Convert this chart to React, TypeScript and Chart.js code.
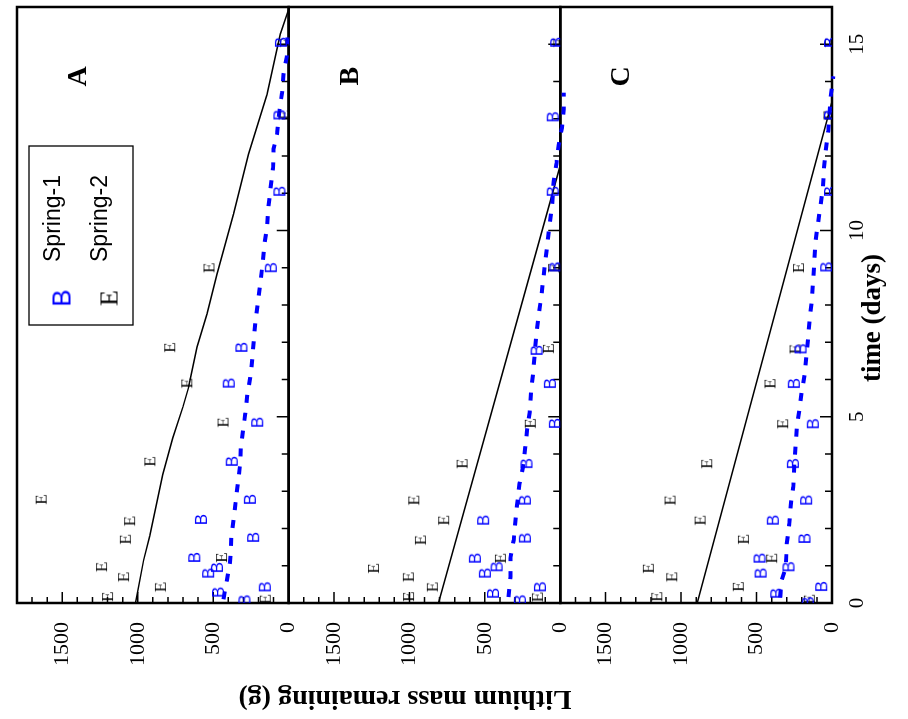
import React, { useEffect, useRef } from "react";
import { Chart, registerables } from "chart.js";

Chart.register(...registerables);

const SERIF = '"Liberation Serif", "Times New Roman", serif';
const SANS = '"Liberation Sans", Arial, sans-serif';

const panelLetters = ["A", "B", "C"];
const seriesLabels = ["Spring-1", "Spring-2"];
const massTicks = [0, 500, 1000, 1500];
const timeTicks = [0, 5, 10, 15];
const xTitle = "time (days)";
const yTitle = "Lithium mass remaining (g)";

// ---------- Panel A ----------
const timeA1 = [0.08, 0.29, 0.43, 0.8, 0.95, 1.22, 1.76, 2.24, 2.78, 3.8, 4.85, 5.9, 6.86, 9.0, 11.05, 13.1, 15.05];
const massA1 = [290, 465, 155, 530, 472, 622, 232, 578, 254, 374, 205, 394, 310, 115, 58, 58, 48];
const timeA2 = [0.1, 0.17, 0.43, 0.7, 0.97, 1.22, 1.71, 2.2, 2.78, 3.8, 4.85, 5.9, 6.86, 9.0, 13.1, 15.05];
const massA2 = [155, 1200, 850, 1094, 1240, 445, 1082, 1054, 1640, 920, 435, 675, 788, 528, 30, 20];
const timeA3 = [0.1, 0.62, 1.1, 1.75, 2.62, 3.71, 4.15, 5.09, 5.6, 6.06, 6.6, 7.58, 8.65, 9.64, 10.08, 10.66, 11.06, 11.68, 12.19, 12.59, 13.26, 13.69, 14.2, 14.68, 15.45];
const massA3 = [432, 409, 388, 380, 354, 322, 318, 287, 274, 254, 240, 220, 185, 160, 144, 133, 122, 104, 100, 77, 60, 44, 34, 12, 5];
const timeA4 = [0, 1.15, 1.8, 3.45, 4.43, 5.26, 5.79, 6.87, 7.76, 8.83, 10.44, 12.05, 13.65, 15.27, 15.94];
const massA4 = [1015, 961, 920, 834, 768, 701, 663, 607, 541, 475, 365, 266, 144, 56, 0];

// ---------- Panel B ----------
const timeB1 = [0.08, 0.26, 0.43, 0.8, 0.97, 1.2, 1.74, 2.22, 2.76, 3.74, 4.82, 5.89, 6.78, 9.02, 11.05, 13.05, 15.05];
const massB1 = [265, 443, 132, 497, 419, 563, 232, 508, 232, 221, 33, 66, 154, 30, 47, 47, 24];
const timeB2 = [0.16, 0.17, 0.43, 0.7, 0.93, 1.2, 1.69, 2.22, 2.76, 3.74, 4.82, 6.83, 9.0, 15.05];
const massB2 = [152, 1006, 848, 1007, 1238, 397, 927, 773, 971, 651, 199, 79, 45, 10];
const timeB3 = [0.16, 0.7, 1.2, 1.69, 2.63, 3.21, 3.65, 4.19, 4.63, 5.12, 5.66, 6.15, 7.22, 7.72, 8.25, 9.0, 9.79, 10.72, 11.33, 11.8, 12.3, 12.76, 13.25, 13.7];
const massB3 = [344, 331, 331, 309, 287, 270, 247, 232, 221, 203, 194, 181, 159, 144, 125, 105, 82, 54, 44, 26, 11, -11, -22, -22];
const timeB4 = [0, 11.75];
const massB4 = [808, 0];

// ---------- Panel C ----------
const timeC1 = [0.03, 0.26, 0.44, 0.8, 0.97, 1.2, 1.73, 2.22, 2.76, 3.74, 4.81, 5.89, 6.82, 9.02, 11.05, 13.1, 15.05];
const massC1 = [157, 366, 68, 470, 285, 477, 179, 389, 168, 256, 124, 250, 205, 35, 10, 10, 10];
const timeC2 = [0.1, 0.17, 0.44, 0.7, 0.93, 1.2, 1.71, 2.22, 2.76, 3.74, 4.81, 5.89, 6.82, 9.0, 13.1, 15.05];
const massC2 = [150, 1161, 621, 1062, 1217, 400, 587, 874, 1073, 830, 327, 411, 245, 222, 20, 10];
const timeC3 = [0.15, 0.62, 0.97, 1.6, 2.13, 2.62, 3.12, 3.71, 4.68, 5.17, 5.66, 6.2, 7.18, 7.67, 8.12, 8.66, 9.69, 10.15, 11.15, 11.69, 12.13, 12.67, 13.6, 14.14];
const massC3 = [345, 333, 305, 300, 283, 274, 257, 250, 234, 217, 201, 179, 157, 146, 134, 125, 110, 94, 60, 53, 42, 25, 9, -9];
const timeC4 = [0, 13.46];
const massC4 = [893, 0];

const pts = (t: number[], m: number[]) => t.map((v, i) => ({ x: v, y: m[i] }));

const panels = [
  { axis: "yA", b: pts(timeA1, massA1), e: pts(timeA2, massA2), blue: pts(timeA3, massA3), black: pts(timeA4, massA4) },
  { axis: "yB", b: pts(timeB1, massB1), e: pts(timeB2, massB2), blue: pts(timeB3, massB3), black: pts(timeB4, massB4) },
  { axis: "yC", b: pts(timeC1, massC1), e: pts(timeC2, massC2), blue: pts(timeC3, massC3), black: pts(timeC4, massC4) },
];

function letterImage(ch: string, color: string, font: string, size: number) {
  const c = document.createElement("canvas");
  const w = Math.ceil(size * 1.1);
  c.width = w;
  c.height = w;
  const ctx = c.getContext("2d")!;
  ctx.fillStyle = color;
  ctx.font = font;
  ctx.textAlign = "center";
  ctx.textBaseline = "alphabetic";
  ctx.fillText(ch, w / 2, w / 2 + size * 0.33);
  return c;
}

const massScale = () => ({
  type: "linear",
  position: "left",
  stack: "panels",
  stackWeight: 1,
  offset: false,
  min: 0,
  max: 1800,
  afterBuildTicks: (s: any) => {
    s.ticks = massTicks.map((v) => ({ value: v }));
  },
  afterFit: (s: any) => {
    s.width = 116;
    s.paddingTop = 0;
    s.paddingBottom = 0;
  },
  ticks: { color: "#000", font: { family: SERIF, size: 22 }, padding: 19, callback: (v: any) => String(v) },
  grid: { display: false, drawTicks: false },
  border: { display: false },
});

export default function App() {
  const ref = useRef<HTMLCanvasElement | null>(null);

  useEffect(() => {
    const canvas = ref.current;
    if (!canvas) return;
    const bImg = letterImage("B", "#0000ff", `17px ${SANS}`, 17);
    const eImg = letterImage("E", "#000000", `17px ${SERIF}`, 17);
    const bLeg = letterImage("B", "#0000ff", `26px ${SANS}`, 26);
    const eLeg = letterImage("E", "#000000", `26px ${SERIF}`, 26);

    const datasets: any[] = [];
    panels.forEach((p) => {
      datasets.push({
        label: seriesLabels[0], data: p.b, yAxisID: p.axis, pointStyle: bImg, pointRadius: 6, showLine: false,
      });
      datasets.push({
        label: seriesLabels[1], data: p.e, yAxisID: p.axis, pointStyle: eImg, pointRadius: 6, showLine: false,
      });
      datasets.push({
        label: "blue", data: p.blue, yAxisID: p.axis, showLine: true, pointRadius: 0, borderColor: "#0000ff",
        borderWidth: 4, borderDash: [8, 10], borderCapStyle: "butt", fill: false, clip: false,
      });
      datasets.push({
        label: "black", data: p.black, yAxisID: p.axis, showLine: true, pointRadius: 0, borderColor: "#000000",
        borderWidth: 1.5, fill: false,
      });
    });

    const framePlugin = {
      id: "frames",
      beforeDatasetsDraw(chart: any) {
        const ctx = chart.ctx;
        const xs = chart.scales.x;
        const { left, right } = chart.chartArea;
        ctx.save();
        ctx.strokeStyle = "#000";
        panels.forEach((p) => {
          const s = chart.scales[p.axis];
          ctx.lineWidth = 2.5;
          ctx.strokeRect(left, s.top, right - left, s.bottom - s.top);
          ctx.lineWidth = 1.5;
          ctx.beginPath();
          for (let v = 100; v < 1800; v += 100) {
            const py = s.getPixelForValue(v);
            const len = v % 500 === 0 ? 11 : 6;
            ctx.moveTo(left, py);
            ctx.lineTo(left + len, py);
          }
          for (let t = 1; t < 16; t++) {
            const px = xs.getPixelForValue(t);
            const len = t % 5 === 0 ? 12 : 7;
            ctx.moveTo(px, s.bottom);
            ctx.lineTo(px, s.bottom - len);
          }
          ctx.stroke();
        });
        ctx.restore();
      },
      afterDraw(chart: any) {
        const ctx = chart.ctx;
        const xs = chart.scales.x;
        const { left, top } = chart.chartArea;
        ctx.save();
        ctx.fillStyle = "#000";
        ctx.font = `bold 28px ${SERIF}`;
        ctx.textAlign = "center";
        ctx.textBaseline = "middle";
        ctx.save();
        ctx.translate(21, 405);
        ctx.rotate(-Math.PI / 2);
        ctx.fillText(yTitle, 0, 0);
        ctx.restore();
        ctx.font = `bold 27px ${SERIF}`;
        ctx.fillText(xTitle, 401, 873);
        ctx.font = `bold 28px ${SERIF}`;
        panels.forEach((p, i) => {
          const s = chart.scales[p.axis];
          ctx.fillText(panelLetters[i], xs.getPixelForValue(14.14), s.getPixelForValue(1390));
        });
        const bx = left + 278;
        const by = top + 12;
        ctx.fillStyle = "#fff";
        ctx.fillRect(bx, by, 179, 104);
        ctx.strokeStyle = "#000";
        ctx.lineWidth = 1.3;
        ctx.strokeRect(bx, by, 179, 104);
        const rows = [
          { img: bLeg, y: by + 33, label: chart.data.datasets[0].label },
          { img: eLeg, y: by + 80, label: chart.data.datasets[1].label },
        ];
        ctx.fillStyle = "#000";
        ctx.font = `23px ${SANS}`;
        ctx.textAlign = "left";
        ctx.textBaseline = "alphabetic";
        rows.forEach((r) => {
          ctx.drawImage(r.img, bx + 27 - r.img.width / 2, r.y - r.img.height / 2);
          ctx.fillText(r.label, bx + 63, r.y - 2.5);
        });
        ctx.restore();
      },
    };

    const chart = new Chart(canvas, {
      type: "scatter",
      data: { datasets },
      options: {
        animation: false,
        responsive: false,
        devicePixelRatio: 1,
        events: [],
        layout: { padding: { top: 17, right: 6, left: 0, bottom: 0 } },
        plugins: { legend: { display: false }, tooltip: { enabled: false } },
        scales: {
          x: {
            type: "linear",
            position: "bottom",
            min: 0,
            max: 16,
            afterBuildTicks: (s: any) => {
              s.ticks = timeTicks.map((v) => ({ value: v }));
            },
            afterFit: (s: any) => {
              s.height = 76;
              s.paddingLeft = 0;
              s.paddingRight = 0;
            },
            ticks: { color: "#000", font: { family: SERIF, size: 21 }, padding: 13, maxRotation: 0, autoSkip: false, callback: (v: any) => String(v) },
            grid: { display: false, drawTicks: false },
            border: { display: false },
          },
          yC: massScale(),
          yB: massScale(),
          yA: massScale(),
        } as any,
      },
      plugins: [framePlugin],
    } as any);

    return () => chart.destroy();
  }, []);

  return (
    <div
      style={{
        position: "fixed",
        left: 0,
        top: 0,
        width: 719,
        height: 908,
        transformOrigin: "0 0",
        transform: "translate(0px, 719px) rotate(-90deg)",
        background: "#fff",
      }}
    >
      <canvas ref={ref} width={719} height={908} style={{ display: "block", width: 719, height: 908 }} />
    </div>
  );
}
